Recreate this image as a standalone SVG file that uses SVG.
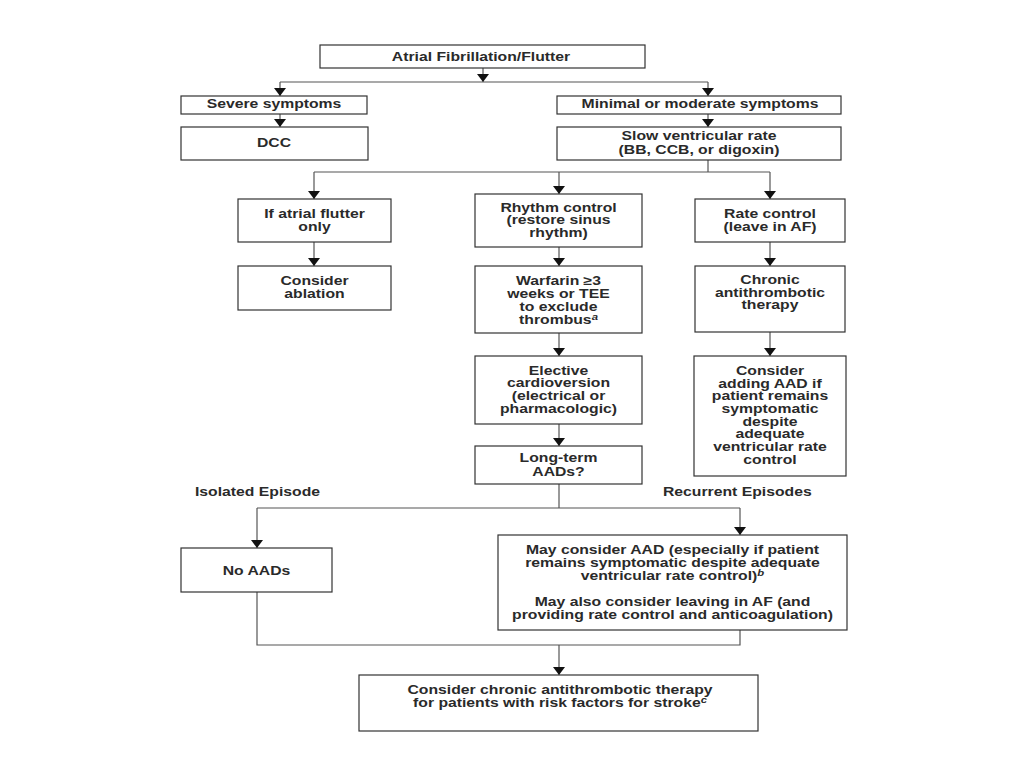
<svg xmlns="http://www.w3.org/2000/svg" width="1024" height="768" viewBox="0 0 1024 768">
<style>
.box{fill:#fff;stroke:#333;stroke-width:1.2}
.t{font-family:"Liberation Sans",Arial,sans-serif;font-weight:bold;font-size:12.5px;fill:#2a2a2a;text-anchor:middle}
.l{text-anchor:start}
.c{fill:none;stroke:#555;stroke-width:1.2}
.a{marker-end:url(#ah)}
.sup{font-style:italic;font-size:9px}
</style>
<defs>
<marker id="ah" viewBox="0 0 8 12" refX="8" refY="6" markerWidth="8" markerHeight="12" markerUnits="userSpaceOnUse" orient="auto">
<path d="M0,0 L8,6 L0,12 z" fill="#111"/>
</marker>
</defs>
<rect width="1024" height="768" fill="#fff"/>
<g id="connectors">
<line class="c a" x1="483" y1="68" x2="483" y2="82"/>
<line class="c" x1="280" y1="82" x2="708" y2="82"/>
<line class="c a" x1="280" y1="82" x2="280" y2="96"/>
<line class="c a" x1="708" y1="82" x2="708" y2="96"/>
<line class="c a" x1="280" y1="114" x2="280" y2="127"/>
<line class="c a" x1="708" y1="114" x2="708" y2="127"/>
<line class="c" x1="708" y1="160" x2="708" y2="172"/>
<line class="c" x1="314" y1="172" x2="770" y2="172"/>
<line class="c a" x1="314" y1="172" x2="314" y2="199"/>
<line class="c a" x1="559" y1="172" x2="559" y2="194"/>
<line class="c a" x1="770" y1="172" x2="770" y2="199"/>
<line class="c a" x1="314" y1="242" x2="314" y2="266"/>
<line class="c a" x1="559" y1="247" x2="559" y2="266"/>
<line class="c a" x1="770" y1="242" x2="770" y2="266"/>
<line class="c a" x1="559" y1="333" x2="559" y2="356"/>
<line class="c a" x1="770" y1="332" x2="770" y2="356"/>
<line class="c a" x1="559" y1="424" x2="559" y2="446"/>
<line class="c" x1="559" y1="484" x2="559" y2="508"/>
<line class="c" x1="257" y1="508" x2="740" y2="508"/>
<line class="c a" x1="257" y1="508" x2="257" y2="548"/>
<line class="c a" x1="740" y1="508" x2="740" y2="535"/>
<polyline class="c" points="257,592 257,645 740,645 740,630"/>
<line class="c a" x1="559" y1="645" x2="559" y2="675"/>
</g>
<g id="n-top"><rect class="box" x="320" y="45" width="325" height="23"/>
<g transform="translate(481,0) scale(1.26,1)"><text class="t" x="0" y="61">Atrial Fibrillation/Flutter</text></g></g>
<g id="n-severe"><rect class="box" x="181" y="96" width="186" height="18"/>
<g transform="translate(274,0) scale(1.26,1)"><text class="t" x="0" y="108.5">Severe symptoms</text></g></g>
<g id="n-minimal"><rect class="box" x="557" y="96" width="284" height="18"/>
<g transform="translate(700,0) scale(1.26,1)"><text class="t" x="0" y="108.5">Minimal or moderate symptoms</text></g></g>
<g id="n-dcc"><rect class="box" x="181" y="127" width="187" height="33"/>
<g transform="translate(274,0) scale(1.26,1)"><text class="t" x="0" y="147.5">DCC</text></g></g>
<g id="n-slow"><rect class="box" x="557" y="127" width="284" height="33"/>
<g transform="translate(699,0) scale(1.26,1)"><text class="t" x="0" y="140">Slow ventricular rate</text><text class="t" x="0" y="154">(BB, CCB, or digoxin)</text></g></g>
<g id="n-flutter"><rect class="box" x="238" y="199" width="153" height="43"/>
<g transform="translate(314.5,0) scale(1.26,1)"><text class="t" x="0" y="218.5">If atrial flutter</text><text class="t" x="0" y="231.5">only</text></g></g>
<g id="n-rhythm"><rect class="box" x="475" y="194" width="167" height="53"/>
<g transform="translate(558.5,0) scale(1.26,1)"><text class="t" x="0" y="212">Rhythm control</text><text class="t" x="0" y="224.5">(restore sinus</text><text class="t" x="0" y="237.5">rhythm)</text></g></g>
<g id="n-rate"><rect class="box" x="695" y="199" width="150" height="43"/>
<g transform="translate(770,0) scale(1.26,1)"><text class="t" x="0" y="218.5">Rate control</text><text class="t" x="0" y="231.5">(leave in AF)</text></g></g>
<g id="n-ablation"><rect class="box" x="238" y="266" width="153" height="44"/>
<g transform="translate(314.5,0) scale(1.26,1)"><text class="t" x="0" y="285.5">Consider</text><text class="t" x="0" y="298.5">ablation</text></g></g>
<g id="n-warfarin"><rect class="box" x="475" y="266" width="167" height="67"/>
<g transform="translate(558.5,0) scale(1.26,1)"><text class="t" x="0" y="285">Warfarin ≥3</text><text class="t" x="0" y="298">weeks or TEE</text><text class="t" x="0" y="311">to exclude</text><text class="t" x="0" y="324">thrombus<tspan class="sup" dy="-4">a</tspan></text></g></g>
<g id="n-chronic"><rect class="box" x="695" y="266" width="150" height="66"/>
<g transform="translate(770,0) scale(1.26,1)"><text class="t" x="0" y="284.5">Chronic</text><text class="t" x="0" y="297">antithrombotic</text><text class="t" x="0" y="309.5">therapy</text></g></g>
<g id="n-elective"><rect class="box" x="475" y="356" width="167" height="68"/>
<g transform="translate(558.5,0) scale(1.26,1)"><text class="t" x="0" y="375">Elective</text><text class="t" x="0" y="387.5">cardioversion</text><text class="t" x="0" y="400">(electrical or</text><text class="t" x="0" y="413">pharmacologic)</text></g></g>
<g id="n-addaad"><rect class="box" x="694" y="356" width="152" height="120"/>
<g transform="translate(770,0) scale(1.26,1)"><text class="t" x="0" y="375">Consider</text><text class="t" x="0" y="387.7">adding AAD if</text><text class="t" x="0" y="400.4">patient remains</text><text class="t" x="0" y="413.1">symptomatic</text><text class="t" x="0" y="425.8">despite</text><text class="t" x="0" y="438.5">adequate</text><text class="t" x="0" y="451.2">ventricular rate</text><text class="t" x="0" y="464">control</text></g></g>
<g id="n-longterm"><rect class="box" x="475" y="446" width="167" height="38"/>
<g transform="translate(558.5,0) scale(1.26,1)"><text class="t" x="0" y="462.5">Long-term</text><text class="t" x="0" y="476">AADs?</text></g></g>
<g id="lbl-isolated"><g transform="translate(195,0) scale(1.26,1)"><text class="t l" x="0" y="496.5">Isolated Episode</text></g></g>
<g id="lbl-recurrent"><g transform="translate(663,0) scale(1.26,1)"><text class="t l" x="0" y="496.5">Recurrent Episodes</text></g></g>
<g id="n-noaads"><rect class="box" x="181" y="548" width="151" height="44"/>
<g transform="translate(256.5,0) scale(1.26,1)"><text class="t" x="0" y="575">No AADs</text></g></g>
<g id="n-mayconsider"><rect class="box" x="498" y="535" width="349" height="95"/>
<g transform="translate(672.5,0) scale(1.26,1)"><text class="t" x="0" y="554.5">May consider AAD (especially if patient</text><text class="t" x="0" y="567.5">remains symptomatic despite adequate</text><text class="t" x="0" y="580">ventricular rate control)<tspan class="sup" dy="-4">b</tspan></text><text class="t" x="0" y="606.5">May also consider leaving in AF (and</text><text class="t" x="0" y="619">providing rate control and anticoagulation)</text></g></g>
<g id="n-final"><rect class="box" x="359" y="675" width="399" height="56"/>
<g transform="translate(560,0) scale(1.26,1)"><text class="t" x="0" y="694">Consider chronic antithrombotic therapy</text><text class="t" x="0" y="707">for patients with risk factors for stroke<tspan class="sup" dy="-4">c</tspan></text></g></g>
</svg>
